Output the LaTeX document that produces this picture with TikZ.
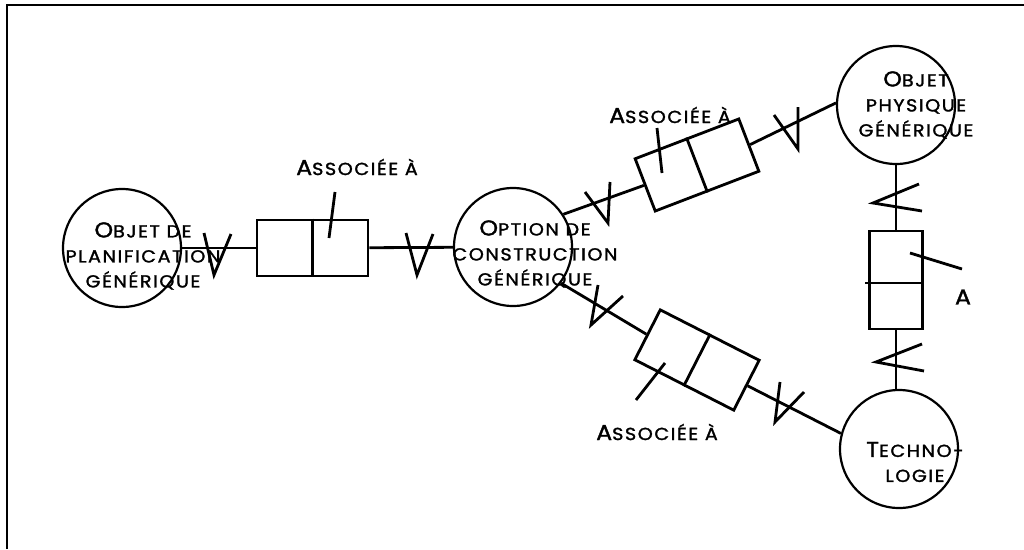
\documentclass[tikz,border=0pt]{standalone}
\usepackage{fontspec}
\setmainfont{Poppins}[FakeStretch=1.1,LetterSpace=9,FakeBold=1.6]
\newcommand\Cap[1]{{\fontsize{21.5}{25}\selectfont #1}}
\tikzset{
  txt/.style={font=\fontsize{17.4}{25}\selectfont, inner sep=0pt, align=center},
  circ/.style={circle, draw, line width=2.2pt, minimum size=118pt, inner sep=0pt},
  rel/.style={draw, line width=2.8pt, minimum width=111pt, minimum height=56pt, inner sep=0pt},
  ln/.style={line width=2.8pt},
  mk/.style={line width=2.8pt, line join=miter},
}
\begin{document}
\begin{tikzpicture}[x=1pt,y=-1pt]
\useasboundingbox (0,0) rectangle (1024,549);
% frame
\draw[line width=2pt] (7,549) -- (7,5) -- (1024,5);
% entities
\node[circ] (c1) at (122,248) {};
\node[circ] (c2) at (513,247) {};
\node[circ] (c3) at (896,105) {};
\node[circ] (c4) at (899,449) {};
% relationship boxes
\node[rel] (b1) at (312.5,248) {};
\node[rel, rotate=21] (b2) at (697,165) {};
\node[rel, rotate=-27] (b4) at (697,360) {};
\node[rel, minimum width=53pt, minimum height=98pt] (b3) at (896,280) {};
\draw[ln] (b1.north) -- (b1.south);
\draw[ln] (b2.north) -- (b2.south);
\draw[ln] (b4.north) -- (b4.south);
\draw[ln] ([xshift=-3pt,yshift=-3pt]b3.west) -- ([yshift=-3pt]b3.east);
% connectors
\draw[ln] (c1) -- (b1);
\draw[ln] (b1) -- (c2);
\draw[ln] (c2.33) -- (b2.west);
\draw[ln] (b2.east) -- (c3.178);
\draw[ln] (c2.-37) -- (b4.west);
\draw[ln] (b4.east) -- (c4.165);
\draw[ln] (c3.south) -- (b3.north);
\draw[ln] (b3.south) -- (b3.south |- c4.north);
% cardinality marks
\draw[mk] (204,233) -- (214,275) -- (231,234);
\draw[mk] (406,233) -- (417,275) -- (433,234);
\draw[mk] (585,192) -- (608,223) -- (610,182);
\draw[mk] (774,115) -- (798,149) -- (798,107);
\draw[mk] (598,285) -- (591,325) -- (623,296);
\draw[mk] (780,382) -- (775,422) -- (804,392);
\draw[mk] (919,184) -- (873,203) -- (922,211);
\draw[mk] (922,344) -- (876,362) -- (924,371);
% pointer lines
\coordinate (p1a) at (335,192); \coordinate (p1b) at (329,238);
\coordinate (p2a) at (657,128); \coordinate (p2b) at (662,173);
\coordinate (p3a) at (665,363); \coordinate (p3b) at (636,400);
\coordinate (p4a) at (910,253); \coordinate (p4b) at (962,269);
\draw[ln] (p1a) -- (p1b);
\draw[ln] (p2a) -- (p2b);
\draw[ln] (p3a) -- (p3b);
\draw[ln] (p4a) -- (p4b);
% labels
\node[txt] (l1) at (357,167) {\Cap{A}SSOCIÉE À};
\node[txt] (l2) at (670,115) {\Cap{A}SSOCIÉE À};
\node[txt] (l3) at (657,432) {\Cap{A}SSOCIÉE À};
\node[txt] (l4) at (963,297) {\Cap{A}};
\node[txt] (t1) at (143,256) {\Cap{O}BJET DE\\PLANIFICATION\\GÉNÉRIQUE};
\node[txt] (t2) at (535,254) {\Cap{O}PTION DE\\CONSTRUCTION\\GÉNÉRIQUE};
\node[txt] (t3) at (916,105) {\Cap{O}BJET\\PHYSIQUE\\GÉNÉRIQUE};
\node[txt] (t4) at (915,462) {\Cap{T}ECHNO-\\LOGIE};
\end{tikzpicture}
\end{document}
